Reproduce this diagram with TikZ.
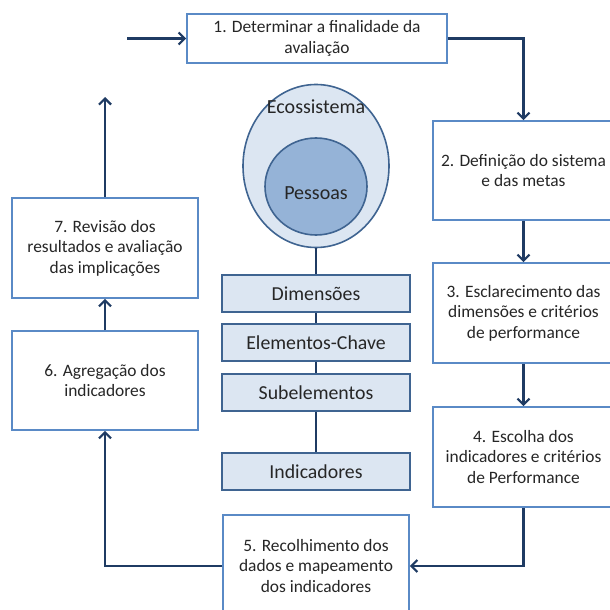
\documentclass[tikz,border=0pt]{standalone}
\usepackage{fontspec}
\setmainfont{Carlito}
\usetikzlibrary{arrows.meta,shapes.geometric}
\definecolor{boxline}{HTML}{5A8AC6}
\definecolor{flowcol}{HTML}{1F3B63}
\definecolor{palefill}{HTML}{DCE6F2}
\definecolor{midfill}{HTML}{95B3D7}
\definecolor{darkline}{HTML}{3F6491}
\definecolor{txt}{HTML}{262626}
\tikzset{
  stepbox/.style={draw=boxline, line width=1.6pt, fill=white, rectangle, inner sep=0pt, align=center, text=txt},
  midbox/.style={draw=darkline, line width=1.6pt, fill=palefill, rectangle, inner sep=0pt, minimum width=188pt, minimum height=37pt, text=txt, font=\fontsize{19.8}{22}\selectfont},
  flow/.style={draw=flowcol, line width=2.6pt, -{Straight Barb[length=6pt,width=12pt,line width=2.2pt]}},
  link/.style={draw=flowcol, line width=2.6pt},
  bigtext/.style={text=txt, font=\fontsize{20}{22}\selectfont}
}
\begin{document}
\begin{tikzpicture}[x=1pt,y=-1pt,font=\fontsize{17.4}{20.5}\selectfont]
\useasboundingbox (0,0) rectangle (610,610);
\clip (0,0) rectangle (610,610);
% central ellipses and boxes
\node[ellipse, draw=darkline, line width=1.6pt, fill=palefill, minimum width=146pt, minimum height=163pt] (eco) at (316,166) {};
\node[bigtext] (ecot) at (316,107) {Ecossistema};
\node[ellipse, draw=darkline, line width=1.6pt, fill=midfill, minimum width=102pt, minimum height=97pt] (pes) at (316,186.5) {};
\node[bigtext] (pest) at (316,193) {Pessoas};
\node[midbox] (dim) at (316,293.5) {Dimensões};
\node[midbox] (ele) at (316,342.5) {Elementos-Chave};
\node[midbox] (sub) at (316,392.5) {Subelementos};
\node[midbox] (ind) at (316,471.5) {Indicadores};
\draw[link] (eco.south) -- (dim.north);
\draw[link] (dim.south) -- (ele.north);
\draw[link] (ele.south) -- (sub.north);
\draw[link] (sub.south) -- (ind.north);
% step boxes
\node[stepbox, minimum width=260pt, minimum height=49pt] (b1) at (317,38.5) {1. Determinar a finalidade da\\avaliação};
\node[stepbox, minimum width=181pt, minimum height=99pt] (b2) at (523.5,170.5) {2. Definição do sistema\\e das metas};
\node[stepbox, minimum width=181pt, minimum height=100pt] (b3) at (523.5,313) {3. Esclarecimento das\\dimensões e critérios\\de performance};
\node[stepbox, minimum width=181pt, minimum height=100pt] (b4) at (523.5,457) {4. Escolha dos\\indicadores e critérios\\de Performance};
\node[stepbox, minimum width=186pt, minimum height=102pt] (b5) at (316,566) {5. Recolhimento dos\\dados e mapeamento\\dos indicadores};
\node[stepbox, minimum width=186pt, minimum height=99pt] (b6) at (105,380.5) {6. Agregação dos\\indicadores};
\node[stepbox, minimum width=186pt, minimum height=100pt] (b7) at (105,248) {7. Revisão dos\\resultados e avaliação\\das implicações};
% flow arrows
\coordinate (in) at (127,38.5);
\coordinate (out) at (105,97);
\draw[flow] (in) -- (b1.west);
\draw[flow] (b1.east) -| (b2.north);
\draw[flow] (b2.south) -- (b3.north);
\draw[flow] (b3.south) -- (b4.north);
\draw[flow] (b4.south) |- (b5.east);
\draw[flow] (b5.west) -| (b6.south);
\draw[flow] (b6.north) -- (b7.south);
\draw[flow] (b7.north) -- (out);
\end{tikzpicture}
\end{document}
